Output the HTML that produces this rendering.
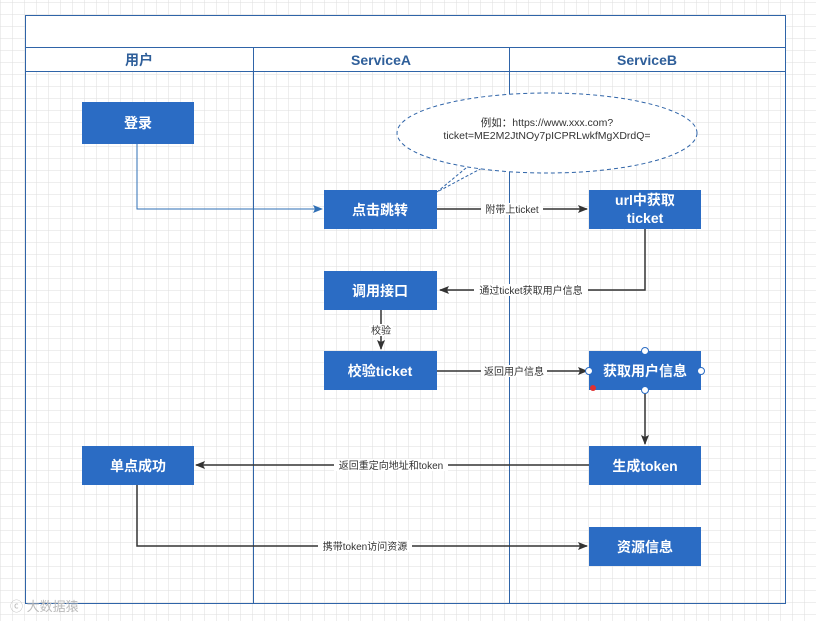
<!DOCTYPE html>
<html><head><meta charset="utf-8"><style>
html,body{margin:0;padding:0;background:#fff}
svg{display:block}
text{font-family:"Liberation Sans","Noto Sans CJK SC",sans-serif}
</style></head><body>
<svg width="816" height="621" viewBox="0 0 816 621" xmlns="http://www.w3.org/2000/svg">
<defs>
<pattern id="g" width="12" height="12" patternUnits="userSpaceOnUse" x="1" y="3">
<path d="M12 0V12M0 12H12" fill="none" stroke="#dedede" stroke-width="1"/>
</pattern>
<marker id="a" markerWidth="10" markerHeight="8" refX="9" refY="4" orient="auto" markerUnits="userSpaceOnUse">
<path d="M0 0L10 4L0 8L2 4Z" fill="#333"/>
</marker>
<marker id="b" markerWidth="10" markerHeight="8" refX="9" refY="4" orient="auto" markerUnits="userSpaceOnUse">
<path d="M0 0L10 4L0 8L2 4Z" fill="#2f6fb5"/>
</marker>
</defs>
<rect width="816" height="621" fill="url(#g)"/>
<rect x="25.5" y="15.5" width="760" height="588" fill="none" stroke="#2f64a8"/>
<rect x="25.5" y="15.5" width="760" height="32" fill="#fff" stroke="#2f64a8"/>
<rect x="25.5" y="47.5" width="760" height="24" fill="#fff" stroke="#2f64a8"/>
<line x1="253.5" y1="47" x2="253.5" y2="603" stroke="#2f64a8"/>
<line x1="509.5" y1="47" x2="509.5" y2="603" stroke="#2f64a8"/>
<g font-size="14" font-weight="bold" fill="#2f5f9a" text-anchor="middle">
<text x="139" y="65">用户</text><text x="381" y="65">ServiceA</text><text x="647" y="65">ServiceB</text>
</g>
<path d="M466 168 L437 192 L482 168" fill="#fff" stroke="#2f64a8" stroke-dasharray="3 2"/>
<ellipse cx="547" cy="133" rx="150" ry="40" fill="#fff" stroke="#2f64a8" stroke-dasharray="4 3"/>
<g font-size="10.5" fill="#333" text-anchor="middle">
<text x="547" y="126">例如：https://www.xxx.com?</text>
<text x="547" y="139">ticket=ME2M2JtNOy7pICPRLwkfMgXDrdQ=</text>
</g>
<g fill="none" stroke="#333" stroke-width="1.5">
<path d="M437 209H587" marker-end="url(#a)"/>
<path d="M645 229V290H440" marker-end="url(#a)"/>
<path d="M381 310V349" marker-end="url(#a)"/>
<path d="M437 371H587" marker-end="url(#a)"/>
<path d="M645 390V444" marker-end="url(#a)"/>
<path d="M589 465H196" marker-end="url(#a)"/>
<path d="M137 485V546H587" marker-end="url(#a)"/>
</g>
<path d="M137 144V209H322" fill="none" stroke="#2f6fb5" stroke-width="1" marker-end="url(#b)"/>
<g font-size="10" fill="#333" text-anchor="middle">
<rect x="481" y="203" width="62" height="12" fill="#fff"/><text x="512" y="213">附带上ticket</text>
<rect x="474" y="284" width="114" height="12" fill="#fff"/><text x="531" y="294">通过ticket获取用户信息</text>
<rect x="369" y="324" width="24" height="12" fill="#fff"/><text x="381" y="334">校验</text>
<rect x="481" y="365" width="66" height="12" fill="#fff"/><text x="514" y="375">返回用户信息</text>
<rect x="334" y="459" width="114" height="12" fill="#fff"/><text x="391" y="469">返回重定向地址和token</text>
<rect x="318" y="540" width="94" height="12" fill="#fff"/><text x="365" y="550">携带token访问资源</text>
</g>
<g fill="#2b6cc4">
<rect x="82" y="102" width="112" height="42"/>
<rect x="324" y="190" width="113" height="39"/>
<rect x="589" y="190" width="112" height="39"/>
<rect x="324" y="271" width="113" height="39"/>
<rect x="324" y="351" width="113" height="39"/>
<rect x="589" y="351" width="112" height="39"/>
<rect x="589" y="446" width="112" height="39"/>
<rect x="82" y="446" width="112" height="39"/>
<rect x="589" y="527" width="112" height="39"/>
</g>
<g font-size="14" font-weight="bold" fill="#fff" text-anchor="middle">
<text x="138" y="128">登录</text>
<text x="380" y="215">点击跳转</text>
<text x="645" y="205">url中获取</text><text x="645" y="223">ticket</text>
<text x="380" y="296">调用接口</text>
<text x="380" y="376">校验ticket</text>
<text x="645" y="376">获取用户信息</text>
<text x="645" y="471">生成token</text>
<text x="138" y="471">单点成功</text>
<text x="645" y="552">资源信息</text>
</g>
<g fill="#fff" stroke="#2b6cc4">
<circle cx="645" cy="351" r="3.5"/><circle cx="589" cy="371" r="3.5"/><circle cx="701" cy="371" r="3.5"/><circle cx="645" cy="390" r="3.5"/>
</g>
<circle cx="593" cy="388" r="3" fill="#e03030"/>
<text x="10" y="611" font-size="13" fill="#bbb">ⓒ 大数据猿</text>
</svg>
</body></html>
